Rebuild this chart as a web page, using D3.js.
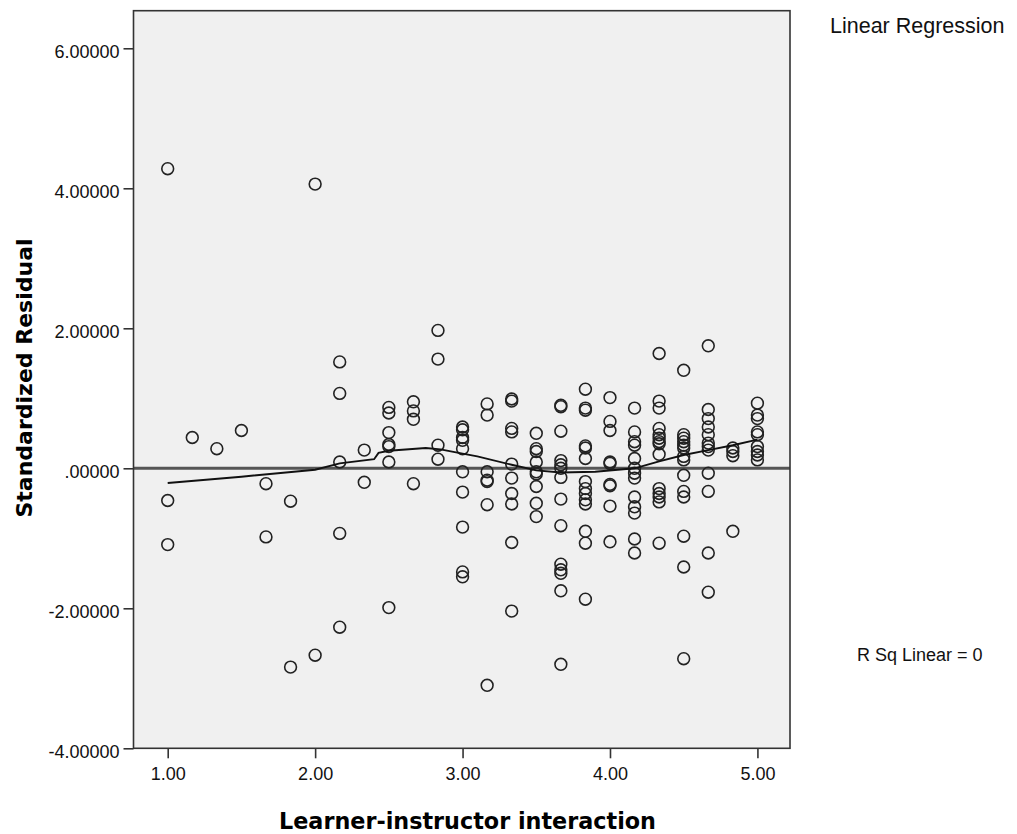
<!DOCTYPE html>
<html>
<head>
<meta charset="utf-8">
<script src="https://cdn.jsdelivr.net/npm/d3@7"></script>
<style>
  html, body { margin: 0; padding: 0; background: #ffffff; }
  svg { display: block; }
</style>
</head>
<body>
<svg id="chart" width="1017" height="834"></svg>
<script>
// ---- Data ----
const xLevels = [1.0, 1.1667, 1.3333, 1.5, 1.6667, 1.8333, 2.0, 2.1667, 2.3333, 2.5, 2.6667, 2.8333,
                 3.0, 3.1667, 3.3333, 3.5, 3.6667, 3.8333, 4.0, 4.1667, 4.3333, 4.5, 4.6667, 4.8333, 5.0];
const residualsByLevel = [
  [4.28, -0.46, -1.09],
  [0.44],
  [0.28],
  [0.54],
  [-0.22, -0.98],
  [-0.47, -2.84],
  [4.06, -2.67],
  [1.52, 1.07, 0.09, -0.93, -2.27],
  [0.26, -0.20],
  [0.87, 0.79, 0.51, 0.34, 0.31, 0.09, -1.99],
  [0.95, 0.82, 0.70, -0.22],
  [1.97, 1.56, 0.33, 0.13],
  [0.59, 0.55, 0.44, 0.40, 0.28, -0.05, -0.34, -0.84, -1.48, -1.55],
  [0.92, 0.76, -0.05, -0.17, -0.19, -0.52, -3.10],
  [0.99, 0.96, 0.57, 0.52, 0.06, -0.14, -0.36, -0.51, -1.06, -2.04],
  [0.50, 0.28, 0.24, 0.09, -0.05, -0.08, -0.26, -0.50, -0.69],
  [0.90, 0.88, 0.53, 0.11, 0.05, 0.00, -0.13, -0.44, -0.82, -1.37, -1.45, -1.50, -1.75, -2.80],
  [1.13, 0.86, 0.83, 0.32, 0.29, 0.14, -0.19, -0.29, -0.36, -0.45, -0.51, -0.90, -1.07, -1.87],
  [1.01, 0.67, 0.54, 0.09, 0.07, -0.23, -0.25, -0.54, -1.05],
  [0.86, 0.52, 0.38, 0.33, 0.14, 0.00, -0.07, -0.14, -0.41, -0.55, -0.64, -1.01, -1.21],
  [1.64, 0.96, 0.86, 0.57, 0.48, 0.43, 0.38, 0.35, 0.20, -0.29, -0.36, -0.41, -0.48, -1.07],
  [1.40, 0.48, 0.43, 0.38, 0.33, 0.29, 0.17, 0.12, -0.10, -0.33, -0.41, -0.97, -1.41, -2.72],
  [1.75, 0.84, 0.71, 0.59, 0.48, 0.36, 0.31, 0.26, -0.07, -0.33, -1.21, -1.77],
  [0.29, 0.24, 0.18, -0.90],
  [0.93, 0.76, 0.71, 0.52, 0.48, 0.31, 0.24, 0.19, 0.12]
];
// Loess fit line
const loessX = [1.0, 1.5, 2.0, 2.1667, 2.4, 2.43, 2.5, 2.75, 2.85, 3.0, 3.1, 3.3333, 3.5, 3.6667, 3.9, 4.1667, 4.3333, 4.5, 4.6667, 4.8333, 5.0];
const loessY = [-0.21, -0.12, -0.02, 0.07, 0.13, 0.22, 0.25, 0.29, 0.27, 0.21, 0.17, 0.05, -0.03, -0.06, -0.05, 0.00, 0.10, 0.19, 0.26, 0.33, 0.41];

const xTicks = [1, 2, 3, 4, 5];
const yTicks = [-4, -2, 0, 2, 4, 6];
const xTitle = "Learner-instructor interaction";
const yTitle = "Standardized Residual";
const legendTitle = "Linear Regression";
const rsqLabel = "R Sq Linear = 0";

// ---- Layout ----
const plot = { left: 133.5, right: 790, top: 10.7, bottom: 748.3 };

const x = d3.scaleLinear().domain([0.768, 5.221]).range([plot.left, plot.right]);
const y = d3.scaleLinear().domain([-4, 6.537]).range([plot.bottom, plot.top]);

const svg = d3.select("#chart");

// plot background
svg.append("rect")
  .attr("x", plot.left).attr("y", plot.top)
  .attr("width", plot.right - plot.left).attr("height", plot.bottom - plot.top)
  .attr("fill", "#f0f0f0");

// reference line at 0
svg.append("line")
  .attr("x1", plot.left).attr("x2", plot.right)
  .attr("y1", y(0)).attr("y2", y(0))
  .attr("stroke", "#555555").attr("stroke-width", 3);

// points
const points = [];
xLevels.forEach((lv, i) => residualsByLevel[i].forEach(r => points.push({ x: lv, y: r })));

svg.append("g").selectAll("circle").data(points).enter().append("circle")
  .attr("cx", d => x(d.x)).attr("cy", d => y(d.y)).attr("r", 5.9)
  .attr("fill", "none").attr("stroke", "#222222").attr("stroke-width", 1.6);

// loess line
const loessData = loessX.map((v, i) => [v, loessY[i]]);
svg.append("path")
  .datum(loessData)
  .attr("d", d3.line().x(d => x(d[0])).y(d => y(d[1])))
  .attr("fill", "none").attr("stroke", "#111111").attr("stroke-width", 1.9);

// frame
svg.append("rect")
  .attr("x", plot.left).attr("y", plot.top)
  .attr("width", plot.right - plot.left).attr("height", plot.bottom - plot.top)
  .attr("fill", "none").attr("stroke", "#333333").attr("stroke-width", 1.6);

// axes
const fmtY = v => d3.format(".5f")(v).replace("\u2212", "-").replace(/^0\./, ".");
const yAxis = svg.append("g")
  .attr("transform", `translate(${plot.left},0)`)
  .call(d3.axisLeft(y).tickValues(yTicks).tickFormat(fmtY).tickSize(10).tickSizeOuter(0).tickPadding(4));
yAxis.select(".domain").remove();
yAxis.selectAll("line").attr("stroke", "#333333").attr("stroke-width", 1.6);
yAxis.selectAll("text")
  .attr("font-family", "'Liberation Sans', Arial, sans-serif")
  .attr("font-size", "18px").attr("fill", "#111").attr("dy", "0.5em");

const xAxis = svg.append("g")
  .attr("transform", `translate(0,${plot.bottom})`)
  .call(d3.axisBottom(x).tickValues(xTicks).tickFormat(d3.format(".2f")).tickSize(10).tickSizeOuter(0).tickPadding(9));
xAxis.select(".domain").remove();
xAxis.selectAll("line").attr("stroke", "#333333").attr("stroke-width", 1.6);
xAxis.selectAll("text")
  .attr("font-family", "'Liberation Sans', Arial, sans-serif")
  .attr("font-size", "18px").attr("fill", "#111");

// axis titles
svg.append("text")
  .attr("x", 467.5).attr("y", 829)
  .attr("text-anchor", "middle")
  .attr("font-family", "'DejaVu Sans', Verdana, sans-serif")
  .attr("font-weight", "bold").attr("font-size", "22.3px").attr("fill", "#000")
  .text(xTitle);

svg.append("text")
  .attr("transform", "translate(32,378) rotate(-90)")
  .attr("text-anchor", "middle")
  .attr("font-family", "'DejaVu Sans', Verdana, sans-serif")
  .attr("font-weight", "bold").attr("font-size", "22px").attr("fill", "#000")
  .text(yTitle);

// legend texts
svg.append("text")
  .attr("x", 830).attr("y", 33)
  .attr("font-family", "'Liberation Sans', Arial, sans-serif")
  .attr("font-size", "21.5px").attr("fill", "#111")
  .text(legendTitle);

svg.append("text")
  .attr("x", 857).attr("y", 660.5)
  .attr("font-family", "'Liberation Sans', Arial, sans-serif")
  .attr("font-size", "18px").attr("fill", "#111")
  .text(rsqLabel);
</script>
</body>
</html>
